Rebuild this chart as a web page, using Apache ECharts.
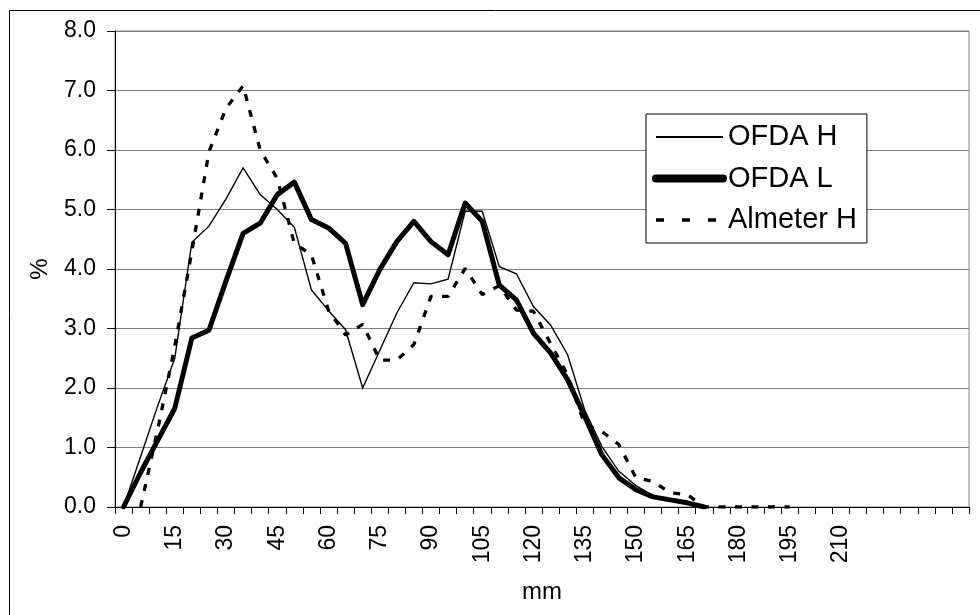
<!DOCTYPE html>
<html>
<head>
<meta charset="utf-8">
<script src="https://cdn.jsdelivr.net/npm/echarts@6/dist/echarts.min.js"></script>
<style>
html,body{margin:0;padding:0;background:#fff;}
#chart{width:980px;height:615px;}
</style>
</head>
<body>
<div id="chart"></div>
<script>
// categories: 0..245 mm in 5 mm steps; labels shown up to 210
var categories = [];
for (var c = 0; c <= 245; c += 5) categories.push(String(c));
var lastLabel = 210;
var yTicks = [0, 1, 2, 3, 4, 5, 6, 7, 8];

var seriesNames = ['OFDA H', 'OFDA L', 'Almeter H'];

// values in %, index 0 = 0 mm, step 5 mm
var ofdaH = [0, 0.85, 1.7, 2.5, 4.45, 4.72, 5.18, 5.70, 5.25, 5.0,
             4.70, 3.65, 3.30, 2.98, 2.0, 2.63, 3.26, 3.77, 3.75, 3.83,
             4.97, 4.97, 4.04, 3.92, 3.37, 3.06, 2.56, 1.63, 1.02, 0.60,
             0.36, 0.19, 0.12, 0.07, 0];
var ofdaL = [0, 0.58, 1.12, 1.66, 2.84, 2.97, 3.80, 4.60, 4.77, 5.25,
             5.46, 4.83, 4.69, 4.43, 3.40, 3.99, 4.46, 4.80, 4.46, 4.24,
             5.11, 4.80, 3.73, 3.48, 2.92, 2.59, 2.14, 1.52, 0.88, 0.49,
             0.29, 0.17, 0.12, 0.07, 0];
var almeterH = [null, 0, 1.3, 2.7, 4.3, 5.97, 6.70, 7.08, 6.0, 5.52,
                4.43, 4.24, 3.30, 2.89, 3.07, 2.47, 2.47, 2.73, 3.54, 3.54,
                4.01, 3.57, 3.72, 3.31, 3.29, 2.75, 2.22, 1.38, 1.27, 1.05,
                0.49, 0.43, 0.24, 0.21, 0, 0, 0, 0, 0, 0];

var FONT = 'Liberation Sans';
var hidden = {opacity: 0, color: 'rgba(0,0,0,0)', borderWidth: 0};
var chart = echarts.init(document.getElementById('chart'), null, {renderer: 'canvas'});
chart.setOption({
  animation: false,
  backgroundColor: '#fff',
  textStyle: {fontFamily: FONT, color: '#000'},
  graphic: [{
    type: 'rect', silent: true, z: -10,
    shape: {x: 9.5, y: 10.5, width: 1200, height: 900},
    style: {fill: 'none', stroke: '#000', lineWidth: 1}
  }],
  grid: {
    left: 115, top: 31, width: 854, height: 476,
    show: true, borderColor: '#808080', borderWidth: 1, containLabel: false
  },
  legend: {
    orient: 'vertical',
    left: 646, top: 114,
    backgroundColor: '#fff',
    borderColor: '#000', borderWidth: 1,
    padding: [8, 10, 8, 6],
    itemWidth: 67, itemHeight: 30, itemGap: 11.5,
    itemStyle: hidden,
    textStyle: {fontFamily: FONT, fontSize: 29, color: '#000', lineHeight: 30},
    data: [
      {name: seriesNames[0], itemStyle: hidden, lineStyle: {width: 2, color: '#000'}},
      {name: seriesNames[1], itemStyle: hidden, lineStyle: {width: 8, color: '#000', cap: 'round'}},
      {name: seriesNames[2], itemStyle: hidden, lineStyle: {width: 3.3, color: '#000', type: [8, 18]}}
    ]
  },
  xAxis: {
    type: 'category',
    data: categories,
    boundaryGap: true,
    name: 'mm',
    nameLocation: 'middle',
    nameGap: 73,
    nameTextStyle: {fontFamily: FONT, fontSize: 24, color: '#000'},
    axisLine: {lineStyle: {color: '#000', width: 1}},
    axisTick: {show: true, interval: 0, length: 7, lineStyle: {color: '#000'}},
    axisLabel: {
      interval: 2, rotate: 90, margin: 18,
      fontFamily: FONT, fontSize: 23, color: '#000',
      formatter: function (v) { return Number(v) <= lastLabel ? v : ''; }
    },
    splitLine: {show: false}
  },
  yAxis: {
    type: 'value',
    min: yTicks[0], max: yTicks[yTicks.length - 1], interval: 1,
    name: '%',
    nameLocation: 'middle',
    nameGap: 63,
    nameRotate: 90,
    nameTextStyle: {fontFamily: FONT, fontSize: 24, color: '#000'},
    axisLine: {show: true, lineStyle: {color: '#000', width: 1}},
    axisTick: {show: true, length: 8, lineStyle: {color: '#000'}},
    axisLabel: {
      margin: 19, fontFamily: FONT, fontSize: 23, color: '#000',
      formatter: function (v) { return v.toFixed(1); }
    },
    splitLine: {show: true, lineStyle: {color: '#808080', width: 1}}
  },
  series: [
    {
      name: seriesNames[0], type: 'line', data: ofdaH,
      symbol: 'none', z: 3,
      itemStyle: {color: '#000'},
      lineStyle: {color: '#000', width: 1.4, join: 'miter'}
    },
    {
      name: seriesNames[1], type: 'line', data: ofdaL,
      symbol: 'none', z: 2,
      itemStyle: {color: '#000'},
      lineStyle: {color: '#000', width: 5, join: 'round', cap: 'round'}
    },
    {
      name: seriesNames[2], type: 'line', data: almeterH,
      symbol: 'none', z: 4,
      itemStyle: {color: '#000'},
      lineStyle: {color: '#000', width: 3.3, type: [7, 9.5]}
    }
  ]
});
</script>
</body>
</html>
